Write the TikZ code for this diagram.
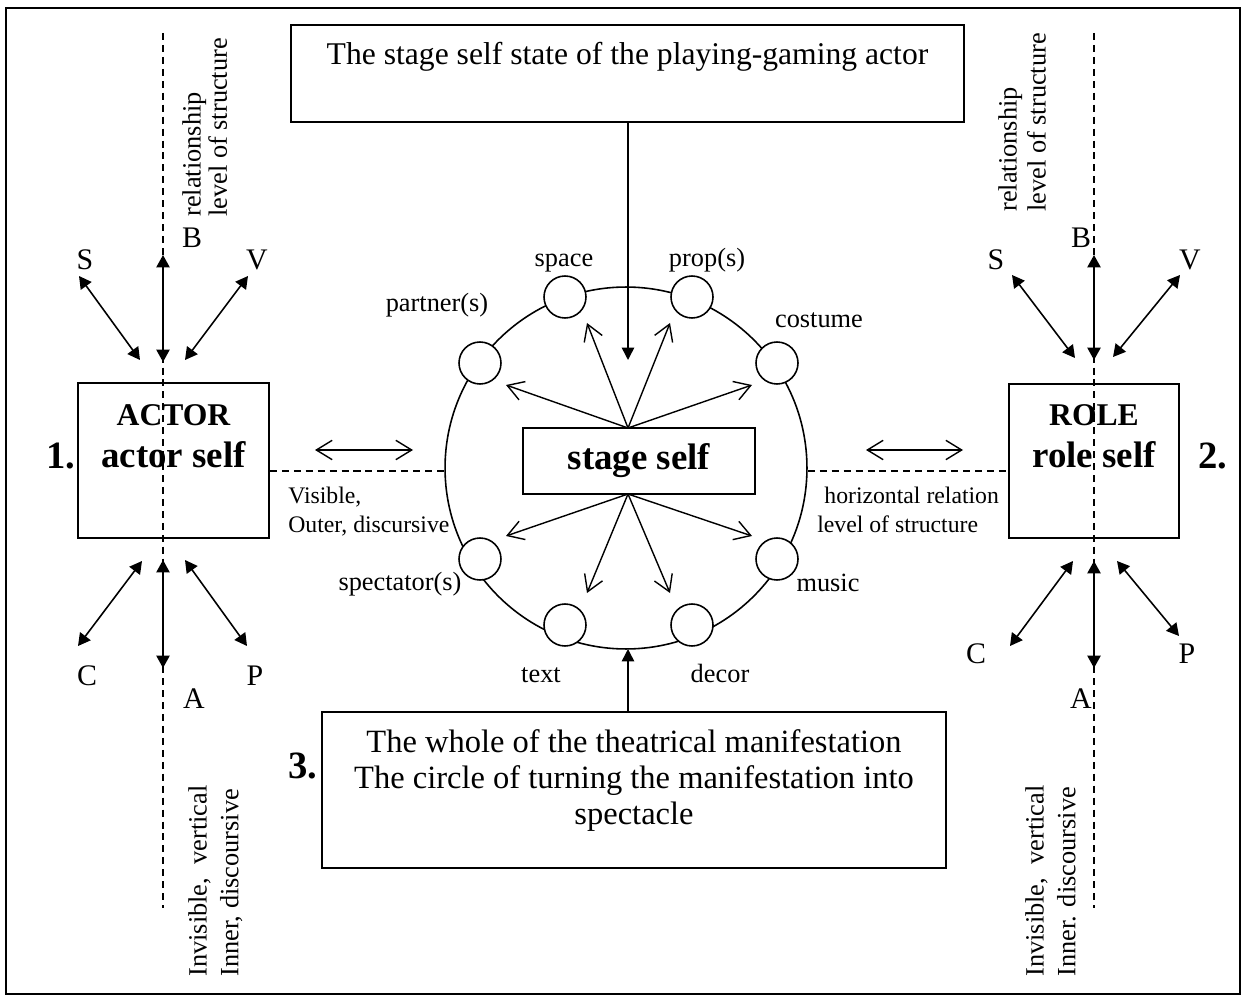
\documentclass[tikz,border=0pt]{standalone}
\usepackage{fontspec}
\setmainfont{Liberation Serif}
\usetikzlibrary{arrows.meta}
\begin{document}
\begin{tikzpicture}[x=0.02cm,y=-0.02cm,
  frame/.style={draw,line width=1pt,inner sep=0pt},
  dline/.style={line width=0.8pt,dash pattern=on 4pt off 2.8pt},
  fillarrow/.style={line width=0.9pt,{Triangle[length=7pt,width=7.5pt]}-{Triangle[length=7pt,width=7.5pt]}},
  downarrow/.style={line width=0.9pt,-{Triangle[length=7pt,width=7pt]}},
  openarrow/.style={line width=0.8pt,-{Straight Barb[length=9pt,width=11pt]}},
  dblopen/.style={line width=0.8pt,{Straight Barb[length=9pt,width=11pt]}-{Straight Barb[length=9pt,width=11pt]}},
  lbl/.style={inner sep=0pt,anchor=base,font=\fontsize{17}{20}\selectfont},
  clbl/.style={inner sep=0pt,anchor=base,font=\fontsize{15}{18}\selectfont},
  num/.style={inner sep=0pt,anchor=base,font=\fontsize{22}{26}\selectfont\bfseries},
  small/.style={draw,circle,line width=0.9pt,fill=white,minimum size=0.84cm,inner sep=0pt}]
\useasboundingbox (0,0) rectangle (1243,996);
\draw[line width=1.1pt] (6,8) rectangle (1240,994);

% top box
\node[frame,minimum width=13.46cm,minimum height=1.94cm] (topbox) at (627.5,73.5) {};
\node[inner sep=0pt,anchor=base,font=\fontsize{18}{21}\selectfont] (toptext) at (627.5,65) {The stage self state of the playing-gaming actor};

% bottom box
\node[frame,minimum width=12.48cm,minimum height=3.12cm] (botbox) at (634,790) {};
\node[inner sep=0pt,anchor=north,align=center,font=\fontsize{18.5}{20.5}\selectfont] (bottext) at (634,729.5) {The whole of the theatrical manifestation\\The circle of turning the manifestation into\\spectacle};
\node[num] (n3) at (303,778) {3.};

% vertical dashed lines
\coordinate (lt) at (163,33); \coordinate (lb) at (163,908);
\coordinate (rt) at (1094,33); \coordinate (rb) at (1094,908);
\draw[dline] (lt) -- (lb);
\draw[dline] (rt) -- (rb);

% actor box
\node[frame,fill=none,minimum width=3.82cm,minimum height=3.1cm] (actbox) at (173.5,460.5) {};
\node[inner sep=0pt,anchor=base,font=\fontsize{18}{21}\selectfont\bfseries] (actor) at (173.5,425) {ACTOR};
\node[inner sep=0pt,anchor=base,font=\fontsize{21}{25}\selectfont\bfseries] (actself) at (173.5,467) {actor self};
\node[num] (n1) at (61,468) {1.};

% role box
\node[frame,minimum width=3.4cm,minimum height=3.08cm] (rolebox) at (1094,461) {};
\node[inner sep=0pt,anchor=base,font=\fontsize{18}{21}\selectfont\bfseries] (role) at (1094,425) {ROLE};
\node[inner sep=0pt,anchor=base,font=\fontsize{21}{25}\selectfont\bfseries] (roleself) at (1094,467) {role self};
\node[num] (n2) at (1213,468) {2.};

% big circle
\node[draw,circle,line width=0.9pt,minimum size=7.24cm,inner sep=0pt] (bigc) at (626,468) {};

% horizontal dashed lines
\coordinate (hl) at (0,471);
\draw[dline] (actbox.east |- hl) -- (bigc.west |- hl);
\draw[dline] (bigc.east |- hl) -- (rolebox.west |- hl);

% small circles
\node[small] (cspace) at (565,297) {};
\node[small] (cprop) at (692,297) {};
\node[small] (cpartner) at (480,363) {};
\node[small] (ccostume) at (777,363) {};
\node[small] (cspect) at (480,559) {};
\node[small] (cmusic) at (777,559) {};
\node[small] (ctext) at (565,625) {};
\node[small] (cdecor) at (692,625) {};

% circle labels
\node[clbl] (lspace) at (564,267) {space};
\node[clbl] (lprop) at (707,267) {prop(s)};
\node[clbl] (lpartner) at (437,312) {partner(s)};
\node[clbl] (lcostume) at (819,328) {costume};
\node[clbl] (lspect) at (400,590) {spectator(s)};
\node[clbl] (lmusic) at (828,591) {music};
\node[clbl] (ltext) at (541,682) {text};
\node[clbl] (ldecor) at (720,682) {decor};

% stage self box
\node[frame,fill=white,minimum width=4.64cm,minimum height=1.32cm,font=\fontsize{21}{25}\selectfont\bfseries] (sbox) at (639,461) {stage self};

% arrows from stage self
\coordinate (sn) at (628,428); \coordinate (ss) at (628,494);
\coordinate (a1) at (506,385); \coordinate (a2) at (587,323);
\coordinate (a3) at (670,323); \coordinate (a4) at (752,385);
\coordinate (b1) at (506,536); \coordinate (b2) at (587,593);
\coordinate (b3) at (670,593); \coordinate (b4) at (752,536);
\foreach \e in {a1,a2,a3,a4} \draw[openarrow] (sn) -- (\e);
\foreach \e in {b1,b2,b3,b4} \draw[openarrow] (ss) -- (\e);

% top and bottom vertical arrows
\coordinate (ttip) at (628,360);
\draw[downarrow] (topbox.south -| ttip) -- (ttip);
\coordinate (btip) at (628,649);
\draw[downarrow] (botbox.north -| btip) -- (btip);

% horizontal open double arrows
\coordinate (h1) at (315,450); \coordinate (h2) at (413,450);
\coordinate (h3) at (866,450); \coordinate (h4) at (963,450);
\draw[dblopen] (h1) -- (h2);
\draw[dblopen] (h3) -- (h4);

% side labels
\node[inner sep=0pt,anchor=north west,align=left,font=\fontsize{13.5}{16.5}\selectfont] (vis) at (288,487) {Visible,\\Outer, discursive};
\node[inner sep=0pt,anchor=north west,align=left,font=\fontsize{13.5}{16.5}\selectfont] (horiz) at (817,487) {\hspace*{4pt}horizontal relation\\level of structure};

% left top arrows
\coordinate (lS1) at (79,276); \coordinate (lS2) at (140,360);
\coordinate (lB1) at (163,255); \coordinate (lB2) at (163,362);
\coordinate (lV1) at (248,276); \coordinate (lV2) at (185,360);
\draw[fillarrow] (lS1) -- (lS2);
\draw[fillarrow] (lB1) -- (lB2);
\draw[fillarrow] (lV1) -- (lV2);
\node[lbl] (lS) at (85,270) {S};
\node[lbl] (lB) at (192,248) {B};
\node[lbl] (lV) at (257,270) {V};

% right top arrows
\coordinate (rS1) at (1012,275); \coordinate (rS2) at (1075,358);
\coordinate (rB1) at (1094,255); \coordinate (rB2) at (1094,360);
\coordinate (rV1) at (1180,275); \coordinate (rV2) at (1113,357);
\draw[fillarrow] (rS1) -- (rS2);
\draw[fillarrow] (rB1) -- (rB2);
\draw[fillarrow] (rV1) -- (rV2);
\node[lbl] (rS) at (996,270) {S};
\node[lbl] (rB) at (1081,248) {B};
\node[lbl] (rV) at (1190,270) {V};

% left bottom arrows
\coordinate (lC1) at (78,646); \coordinate (lC2) at (142,561);
\coordinate (lA1) at (163,560); \coordinate (lA2) at (163,668);
\coordinate (lP1) at (185,560); \coordinate (lP2) at (247,646);
\draw[fillarrow] (lC1) -- (lC2);
\draw[fillarrow] (lA1) -- (lA2);
\draw[fillarrow] (lP1) -- (lP2);
\node[lbl] (lC) at (87,685) {C};
\node[lbl] (lA) at (194,708) {A};
\node[lbl] (lP) at (255,685) {P};

% right bottom arrows
\coordinate (rC1) at (1010,646); \coordinate (rC2) at (1073,561);
\coordinate (rA1) at (1094,561); \coordinate (rA2) at (1094,668);
\coordinate (rP1) at (1117,561); \coordinate (rP2) at (1179,636);
\draw[fillarrow] (rC1) -- (rC2);
\draw[fillarrow] (rA1) -- (rA2);
\draw[fillarrow] (rP1) -- (rP2);
\node[lbl] (rC) at (976,663) {C};
\node[lbl] (rA) at (1081,708) {A};
\node[lbl] (rP) at (1187,663) {P};

% rotated texts
\node[inner sep=0pt,rotate=90,anchor=north west,align=left,font=\fontsize{15}{15}\selectfont] (reltl) at (182,217) {relationship\\level of structure};
\node[inner sep=0pt,rotate=90,anchor=north west,align=left,font=\fontsize{15}{16.5}\selectfont] (reltr) at (998,212) {relationship\\level of structure};
\node[inner sep=0pt,rotate=90,anchor=north west,align=left,font=\fontsize{15}{18}\selectfont] (invl) at (188,977) {Invisible,\hspace{0.5em}vertical\\Inner, discoursive};
\node[inner sep=0pt,rotate=90,anchor=north west,align=left,font=\fontsize{15}{18}\selectfont] (invr) at (1025,977) {Invisible,\hspace{0.5em}vertical\\Inner. discoursive};
\end{tikzpicture}
\end{document}
